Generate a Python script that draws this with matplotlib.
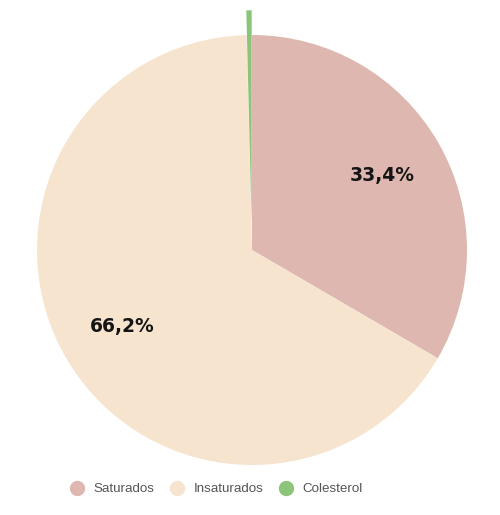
import matplotlib
matplotlib.use("Agg")
import matplotlib.pyplot as plt
from matplotlib.lines import Line2D
import math

categories = ["Saturados", "Insaturados", "Colesterol"]
values = [33.4, 66.2, 0.4]
labels_pct = ["33,4%", "66,2%", ""]
colors = ["#deb8b0", "#f7e4cf", "#8cc47a"]
explode = [0, 0, 0.115]

fig = plt.figure(figsize=(5.0, 5.15), dpi=100)
ax = fig.add_axes([37/500, (515-465)/515, 430/500, 430/515])
wedges, texts = ax.pie(values, colors=colors, startangle=90, counterclock=False,
                       explode=explode, wedgeprops={"clip_on": False, "linewidth": 0})
total = sum(values)
ang = 90.0
for v, lab in zip(values, labels_pct):
    span = 360 * v / total
    mid = math.radians(ang - span / 2)
    ang -= span
    if lab:
        ax.text(0.7 * math.cos(mid), 0.7 * math.sin(mid), lab, ha="center", va="center",
                fontsize=13.5, fontweight="bold", color="#151515", family="DejaVu Sans")
ax.set_xlim(-1, 1)
ax.set_ylim(-1, 1)
ax.set_aspect("equal")
ax.axis("off")

handles = [Line2D([], [], marker="o", linestyle="none", markersize=10,
                  markerfacecolor=c, markeredgecolor=c) for c in colors]
fig.legend(handles, categories, loc="center", bbox_to_anchor=(0.433, 1 - 489/515),
           ncol=3, frameon=False, handlelength=1.0, handletextpad=0.7, columnspacing=1.25,
           prop={"family": "Liberation Sans", "size": 9.6}, labelcolor="#555555")
fig.savefig("out.png", dpi=100)
